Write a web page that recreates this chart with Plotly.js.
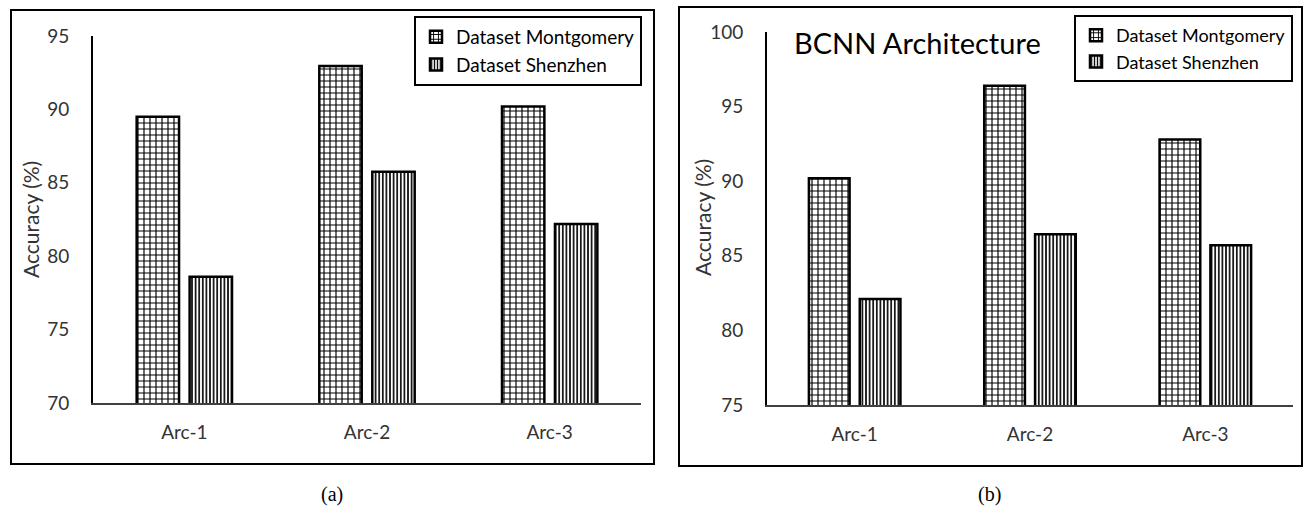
<!DOCTYPE html>
<html>
<head>
<meta charset="utf-8">
<script src="https://cdn.plot.ly/plotly-3.0.1.min.js"></script>
<style>html,body{margin:0;padding:0;background:#fff;}#chart{width:1304px;height:506px;}</style>
</head>
<body>
<div id="chart"></div>
<script>
const categories = ["Arc-1", "Arc-2", "Arc-3"];
const seriesNames = ["Dataset Montgomery", "Dataset Shenzhen"];
// (a)
const montgomeryA = [89.5, 92.95, 90.2];
const shenzhenA = [78.6, 85.75, 82.2];
// (b) BCNN Architecture
const montgomeryB = [90.2, 96.4, 92.8];
const shenzhenB = [82.1, 86.45, 85.7];
const yTicksA = [70, 75, 80, 85, 90, 95];
const yTicksB = [75, 80, 85, 90, 95, 100];

const W = 1304, H = 506;
const px = v => v / W;
const py = v => (H - v) / H;
const FONT = "Lato, 'Open Sans', sans-serif";
const gridPat = {shape: "+", size: 6, solidity: 0.35, fgcolor: "#000", bgcolor: "#fff"};
const vertPat = {shape: "|", size: 3.6, solidity: 0.45, fgcolor: "#000", bgcolor: "#fff"};

function bar(name, y, xa, ya, pat, leg) {
  return {
    type: "bar", name: name, x: categories, y: y, xaxis: xa, yaxis: ya,
    legend: leg,
    marker: {color: "#fff", pattern: pat, line: {color: "#000", width: 2.5}},
    hoverinfo: "skip"
  };
}

const data = [
  bar(seriesNames[0], montgomeryA, "x", "y", gridPat, "legend"),
  bar(seriesNames[1], shenzhenA, "x", "y", vertPat, "legend"),
  bar(seriesNames[0], montgomeryB, "x2", "y2", gridPat, "legend2"),
  bar(seriesNames[1], shenzhenB, "x2", "y2", vertPat, "legend2")
];

const tickFont = {family: FONT, size: 19, color: "#333"};
const xCommon = {
  showline: true, linecolor: "#404040", linewidth: 1.5, ticks: "", showgrid: false,
  zeroline: false, tickfont: tickFont, ticklabelstandoff: 12, fixedrange: true
};
const yCommon = {
  showline: true, linecolor: "#000", linewidth: 2, ticks: "", showgrid: false,
  zeroline: false, tickfont: tickFont, ticklabelstandoff: 18, fixedrange: true
};

const layout = {
  width: W, height: H,
  margin: {l: 0, r: 0, t: 0, b: 0},
  paper_bgcolor: "#fff", plot_bgcolor: "#fff",
  barmode: "group",
  bargap: 0.42, bargroupgap: 0.2,
  showlegend: true,
  xaxis: Object.assign({}, xCommon, {domain: [px(93), px(641)], anchor: "y"}),
  yaxis: Object.assign({}, yCommon, {domain: [py(403), py(36)], range: [70, 95], tickvals: yTicksA, anchor: "x"}),
  xaxis2: Object.assign({}, xCommon, {domain: [px(767), px(1293)], anchor: "y2"}),
  yaxis2: Object.assign({}, yCommon, {domain: [py(405), py(32)], range: [75, 100], tickvals: yTicksB, anchor: "x2"}),
  legend: {
    x: px(414), y: py(16), xanchor: "left", yanchor: "top",
    bgcolor: "#fff", bordercolor: "#000", borderwidth: 2,
    font: {family: FONT, size: 19, color: "#000"}, itemwidth: 30, tracegroupgap: 0
  },
  legend2: {
    x: px(1074), y: py(15), xanchor: "left", yanchor: "top",
    bgcolor: "#fff", bordercolor: "#000", borderwidth: 2,
    font: {family: FONT, size: 18, color: "#000"}, itemwidth: 30, tracegroupgap: 0
  },
  shapes: [
    {type: "rect", xref: "paper", yref: "paper", x0: px(11), x1: px(654), y0: py(464), y1: py(10), line: {color: "#000", width: 2}, layer: "below"},
    {type: "rect", xref: "paper", yref: "paper", x0: px(679), x1: px(1302), y0: py(466), y1: py(7), line: {color: "#000", width: 2}, layer: "below"}
  ],
  annotations: [
    {text: "Accuracy (%)", xref: "paper", yref: "paper", x: px(30), y: py(220), textangle: -90, showarrow: false, font: {family: FONT, size: 21, color: "#333"}, xanchor: "center", yanchor: "middle"},
    {text: "Accuracy (%)", xref: "paper", yref: "paper", x: px(703), y: py(218), textangle: -90, showarrow: false, font: {family: FONT, size: 21, color: "#333"}, xanchor: "center", yanchor: "middle"},
    {text: "BCNN Architecture", xref: "paper", yref: "paper", x: px(792), y: py(43), showarrow: false, font: {family: FONT, size: 29, color: "#000"}, xanchor: "left", yanchor: "middle"},
    {text: "(a)", xref: "paper", yref: "paper", x: px(332), y: py(494), showarrow: false, borderpad: 0, font: {family: "'Liberation Serif', serif", size: 20, color: "#000"}, xanchor: "center", yanchor: "middle"},
    {text: "(b)", xref: "paper", yref: "paper", x: px(990), y: py(494), showarrow: false, borderpad: 0, font: {family: "'Liberation Serif', serif", size: 20, color: "#000"}, xanchor: "center", yanchor: "middle"}
  ]
};

Plotly.newPlot("chart", data, layout, {staticPlot: true, displayModeBar: false});
</script>
</body>
</html>
